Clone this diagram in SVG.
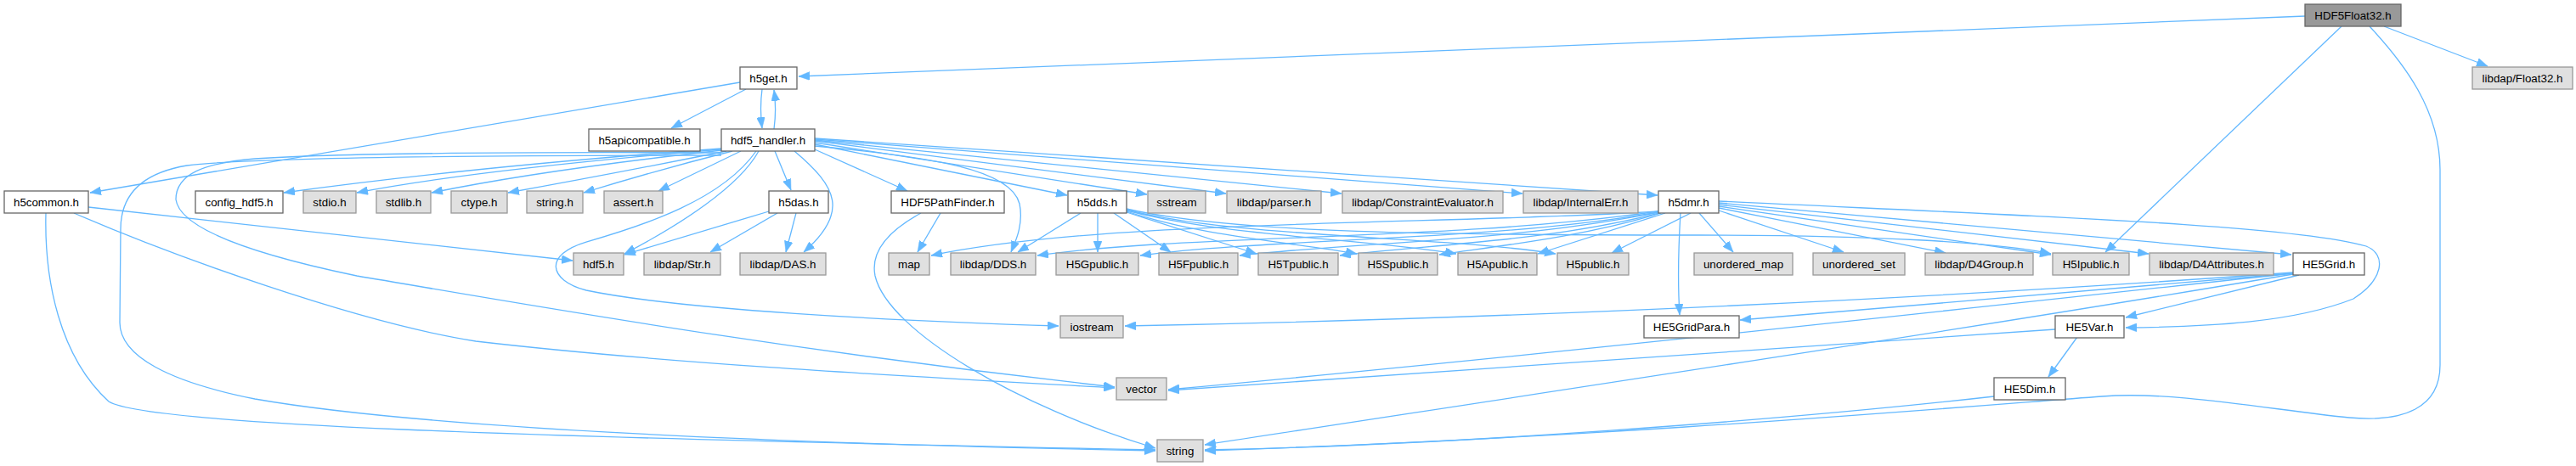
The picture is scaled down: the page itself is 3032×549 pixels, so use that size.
<svg xmlns="http://www.w3.org/2000/svg" width="3032" height="549" viewBox="0 0 3032 549">
<style>
rect.w{fill:#ffffff;stroke:#666666;stroke-width:1.3}
rect.g{fill:#e0e0e0;stroke:#999999;stroke-width:1.3}
rect.r{fill:#999999;stroke:#666666;stroke-width:1.3}
text{font-family:"Liberation Sans",Arial,Helvetica,sans-serif;font-size:13.33px;fill:#000000;text-anchor:middle}
#edges path{fill:none;stroke:#63b8ff;stroke-width:1.3;marker-end:url(#ah)}
</style>
<defs>
<marker id="ah" markerUnits="userSpaceOnUse" markerWidth="13" markerHeight="10" refX="13" refY="5" orient="auto">
<path d="M0,0 L13,5 L0,10 z" fill="#63b8ff" stroke="#63b8ff" stroke-width="0.5"/>
</marker>
</defs>
<rect width="3032" height="549" fill="#ffffff"/>
<g id="edges">
<path d="M2713,19 L940,90"/>
<path d="M2756,31 L2478,297"/>
<path d="M2806,31 L2928,78"/>
<path d="M2789,31 C2830,75 2872,130 2872,200 L2872,430 C2872,480 2830,498 2765,492 C2680,484 2560,460 2474,467 C2300,480 1900,515 1418,531"/>
<path d="M871,97 L106,227"/>
<path d="M878,105 L790,151"/>
<path d="M897,105 C895,120 895,135 897,151"/>
<path d="M911,152 C913,137 913,120 911,106"/>
<path d="M849,175 Q560,196 334,227"/>
<path d="M849,176 Q560,200 420,227"/>
<path d="M850,177 Q640,200 508,227"/>
<path d="M855,178 Q720,205 598,227"/>
<path d="M862,178 Q775,200 687,227"/>
<path d="M872,178 L775,225"/>
<path d="M912,178 L931,224"/>
<path d="M893,178 C870,220 800,265 735,299"/>
<path d="M935,178 C985,220 1000,250 946,297"/>
<path d="M890,178 C850,235 760,265 690,285 C640,300 645,330 690,342 C800,365 1050,378 1246,384"/>
<path d="M849,180 C600,179 400,180 300,187 C240,192 207,205 207,235 C212,270 300,300 420,325 C600,355 900,410 1312,456"/>
<path d="M849,183 C600,183 300,185 220,195 C160,205 142,235 142,270 L141,380 C141,420 200,450 300,470 C500,505 900,522 1360,531"/>
<path d="M959,176 L1068,225"/>
<path d="M959,172 C1100,185 1190,200 1200,240 C1205,265 1195,285 1190,297"/>
<path d="M959,170 L1256,230"/>
<path d="M959,168 L1350,229"/>
<path d="M959,166 L1443,228"/>
<path d="M959,165 L1579,228"/>
<path d="M959,164 L1792,228"/>
<path d="M959,163 L1951,230"/>
<path d="M905,249 L735,300"/>
<path d="M915,251 L836,297"/>
<path d="M937,251 L925,297"/>
<path d="M104,244 L674,307"/>
<path d="M87,251 C200,300 420,380 560,402 C800,430 1100,445 1312,457"/>
<path d="M54,251 C52,330 70,420 128,473 C170,500 600,515 1360,530"/>
<path d="M1107,251 L1080,297"/>
<path d="M1084,251 C1040,275 1025,300 1030,325 C1045,390 1200,480 1360,528"/>
<path d="M1272,251 L1198,297"/>
<path d="M1292,251 L1292,297"/>
<path d="M1311,251 L1378,297"/>
<path d="M1326,250 L1479,299"/>
<path d="M1326,249 C1420,280 1520,285 1597,299"/>
<path d="M1326,248 C1450,280 1600,280 1714,299"/>
<path d="M1326,247 C1450,280 1700,278 1831,299"/>
<path d="M1326,246 C1450,275 1700,277 2000,277 C2200,277 2350,285 2414,299"/>
<path d="M1952,249 C1700,265 1300,258 1096,301"/>
<path d="M1952,249 C1700,285 1400,275 1221,301"/>
<path d="M1952,250 C1750,285 1500,280 1342,301"/>
<path d="M1952,250 C1780,285 1600,285 1459,301"/>
<path d="M1953,251 C1820,285 1680,288 1577,301"/>
<path d="M1955,251 C1860,280 1760,290 1694,300"/>
<path d="M1960,251 L1810,299"/>
<path d="M1990,251 L1897,298"/>
<path d="M2000,251 L2040,297"/>
<path d="M2023,248 L2170,297"/>
<path d="M2023,245 L2290,298"/>
<path d="M2023,243 L2414,300"/>
<path d="M2023,241 L2529,299"/>
<path d="M2023,239 L2697,300"/>
<path d="M2023,237 C2400,255 2700,265 2785,290 C2810,300 2805,330 2770,352 C2700,380 2600,385 2502,386"/>
<path d="M1978,251 C1975,300 1975,340 1977,371"/>
<path d="M2699,322 L2048,377"/>
<path d="M2706,324 L2502,374"/>
<path d="M2699,321 C2300,350 1800,375 1324,384"/>
<path d="M2699,322 C2300,365 1800,420 1375,459"/>
<path d="M2419,388 L1375,460"/>
<path d="M2699,323 C2300,390 1900,450 1418,524"/>
<path d="M2445,397 L2411,444"/>
<path d="M2347,467 C2100,495 1700,525 1418,530"/>
</g>
<g id="node-HDF5Float32"><rect class="r" x="2713" y="5" width="113" height="26"/><text x="2769.5" y="22.5">HDF5Float32.h</text></g>
<g id="node-h5get"><rect class="w" x="871" y="79" width="67" height="26"/><text x="904.5" y="96.5">h5get.h</text></g>
<g id="node-libdap-Float32"><rect class="g" x="2910" y="79" width="118" height="26"/><text x="2969" y="96.5">libdap/Float32.h</text></g>
<g id="node-h5apicompatible"><rect class="w" x="693" y="152" width="131" height="26"/><text x="758.5" y="169.5">h5apicompatible.h</text></g>
<g id="node-hdf5_handler"><rect class="w" x="849" y="152" width="110" height="26"/><text x="904" y="169.5">hdf5_handler.h</text></g>
<g id="node-h5common"><rect class="w" x="5" y="225" width="99" height="26"/><text x="54.5" y="242.5">h5common.h</text></g>
<g id="node-config_hdf5"><rect class="w" x="230" y="225" width="103" height="26"/><text x="281.5" y="242.5">config_hdf5.h</text></g>
<g id="node-stdio"><rect class="g" x="357" y="225" width="62" height="26"/><text x="388" y="242.5">stdio.h</text></g>
<g id="node-stdlib"><rect class="g" x="443" y="225" width="64" height="26"/><text x="475" y="242.5">stdlib.h</text></g>
<g id="node-ctype"><rect class="g" x="531" y="225" width="66" height="26"/><text x="564" y="242.5">ctype.h</text></g>
<g id="node-string_h"><rect class="g" x="620" y="225" width="66" height="26"/><text x="653" y="242.5">string.h</text></g>
<g id="node-assert"><rect class="g" x="711" y="225" width="69" height="26"/><text x="745.5" y="242.5">assert.h</text></g>
<g id="node-h5das"><rect class="w" x="905" y="225" width="70" height="26"/><text x="940" y="242.5">h5das.h</text></g>
<g id="node-HDF5PathFinder"><rect class="w" x="1049" y="225" width="133" height="26"/><text x="1115.5" y="242.5">HDF5PathFinder.h</text></g>
<g id="node-h5dds"><rect class="w" x="1257" y="225" width="69" height="26"/><text x="1291.5" y="242.5">h5dds.h</text></g>
<g id="node-sstream"><rect class="g" x="1351" y="225" width="68" height="26"/><text x="1385" y="242.5">sstream</text></g>
<g id="node-libdap-parser"><rect class="g" x="1444" y="225" width="111" height="26"/><text x="1499.5" y="242.5">libdap/parser.h</text></g>
<g id="node-libdap-ConstraintEvaluator"><rect class="g" x="1580" y="225" width="189" height="26"/><text x="1674.5" y="242.5">libdap/ConstraintEvaluator.h</text></g>
<g id="node-libdap-InternalErr"><rect class="g" x="1793" y="225" width="135" height="26"/><text x="1860.5" y="242.5">libdap/InternalErr.h</text></g>
<g id="node-h5dmr"><rect class="w" x="1952" y="225" width="71" height="26"/><text x="1987.5" y="242.5">h5dmr.h</text></g>
<g id="node-hdf5"><rect class="g" x="675" y="298" width="59" height="26"/><text x="704.5" y="315.5">hdf5.h</text></g>
<g id="node-libdap-Str"><rect class="g" x="758" y="298" width="90" height="26"/><text x="803" y="315.5">libdap/Str.h</text></g>
<g id="node-libdap-DAS"><rect class="g" x="871" y="298" width="101" height="26"/><text x="921.5" y="315.5">libdap/DAS.h</text></g>
<g id="node-map"><rect class="g" x="1046" y="298" width="48" height="26"/><text x="1070" y="315.5">map</text></g>
<g id="node-libdap-DDS"><rect class="g" x="1119" y="298" width="100" height="26"/><text x="1169" y="315.5">libdap/DDS.h</text></g>
<g id="node-H5Gpublic"><rect class="g" x="1243" y="298" width="97" height="26"/><text x="1291.5" y="315.5">H5Gpublic.h</text></g>
<g id="node-H5Fpublic"><rect class="g" x="1364" y="298" width="93" height="26"/><text x="1410.5" y="315.5">H5Fpublic.h</text></g>
<g id="node-H5Tpublic"><rect class="g" x="1481" y="298" width="94" height="26"/><text x="1528" y="315.5">H5Tpublic.h</text></g>
<g id="node-H5Spublic"><rect class="g" x="1599" y="298" width="93" height="26"/><text x="1645.5" y="315.5">H5Spublic.h</text></g>
<g id="node-H5Apublic"><rect class="g" x="1716" y="298" width="93" height="26"/><text x="1762.5" y="315.5">H5Apublic.h</text></g>
<g id="node-H5public"><rect class="g" x="1833" y="298" width="84" height="26"/><text x="1875" y="315.5">H5public.h</text></g>
<g id="node-unordered_map"><rect class="g" x="1994" y="298" width="116" height="26"/><text x="2052" y="315.5">unordered_map</text></g>
<g id="node-unordered_set"><rect class="g" x="2134" y="298" width="108" height="26"/><text x="2188" y="315.5">unordered_set</text></g>
<g id="node-libdap-D4Group"><rect class="g" x="2266" y="298" width="127" height="26"/><text x="2329.5" y="315.5">libdap/D4Group.h</text></g>
<g id="node-H5Ipublic"><rect class="g" x="2416" y="298" width="90" height="26"/><text x="2461" y="315.5">H5Ipublic.h</text></g>
<g id="node-libdap-D4Attributes"><rect class="g" x="2530" y="298" width="146" height="26"/><text x="2603" y="315.5">libdap/D4Attributes.h</text></g>
<g id="node-HE5Grid"><rect class="w" x="2699" y="298" width="84" height="26"/><text x="2741" y="315.5">HE5Grid.h</text></g>
<g id="node-iostream"><rect class="g" x="1248" y="372" width="74" height="26"/><text x="1285" y="389.5">iostream</text></g>
<g id="node-HE5GridPara"><rect class="w" x="1935" y="372" width="112" height="26"/><text x="1991" y="389.5">HE5GridPara.h</text></g>
<g id="node-HE5Var"><rect class="w" x="2419" y="372" width="81" height="26"/><text x="2459.5" y="389.5">HE5Var.h</text></g>
<g id="node-vector"><rect class="g" x="1314" y="445" width="59" height="26"/><text x="1343.5" y="462.5">vector</text></g>
<g id="node-HE5Dim"><rect class="w" x="2347" y="445" width="84" height="26"/><text x="2389" y="462.5">HE5Dim.h</text></g>
<g id="node-string"><rect class="g" x="1362" y="518" width="54" height="26"/><text x="1389" y="535.5">string</text></g>
</svg>
